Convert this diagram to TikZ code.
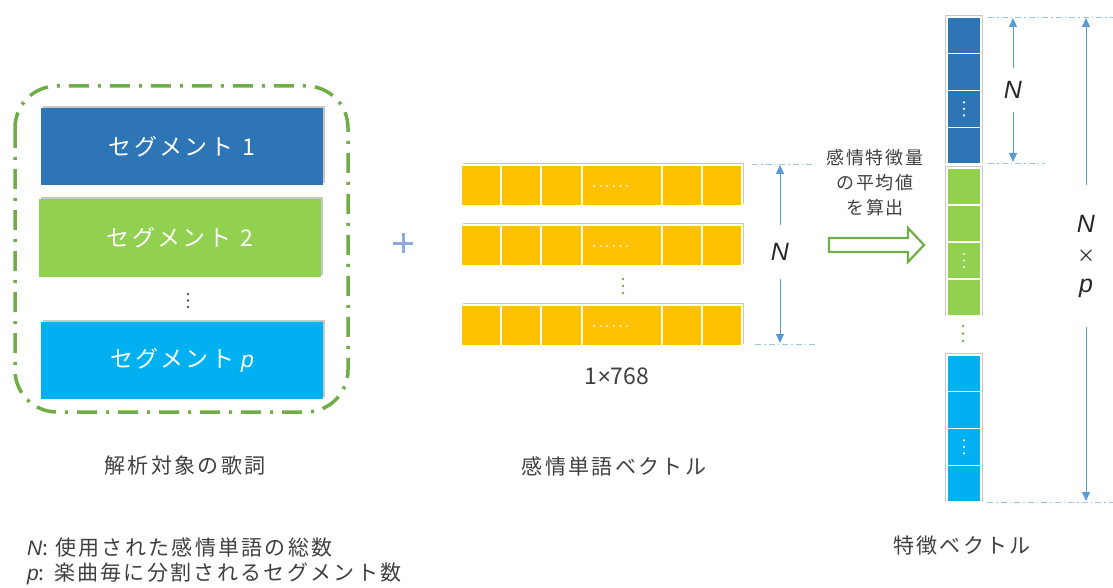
\documentclass[tikz,border=0pt]{standalone}
\usepackage{fontspec}
\setmainfont{Noto Sans CJK JP}
\newfontfamily\latit{Liberation Sans}
\usetikzlibrary{arrows.meta}
\definecolor{segblue}{HTML}{2E75B6}
\definecolor{seggreen}{HTML}{92D050}
\definecolor{segcyan}{HTML}{00B0F0}
\definecolor{vecyellow}{HTML}{FFC000}
\definecolor{grpgreen}{HTML}{70AD47}
\definecolor{dimblue}{HTML}{5B9BD5}
\definecolor{dimlight}{HTML}{9DC3E6}
\definecolor{txtgray}{HTML}{404040}
\definecolor{plusblue}{HTML}{8FAADC}
\definecolor{dotdark}{HTML}{44546A}
\newcommand{\itN}{{\latit\itshape N}}
\newcommand{\itp}{{\latit\itshape p}}
\begin{document}
\begin{tikzpicture}[x=1pt,y=-1pt,
  segbox/.style={minimum width=282pt,minimum height=77pt,inner sep=0pt,text=white,
    font=\fontsize{23}{26}\selectfont\addfontfeature{LetterSpace=10},
    preaction={fill=black,opacity=0.22,transform canvas={xshift=2pt,yshift=2pt}}},
  lbl/.style={text=txtgray,font=\fontsize{21}{25}\selectfont\addfontfeature{LetterSpace=11},inner sep=0pt},
  shadowbox/.style={fill=black,opacity=0.22},
  cellline/.style={draw=white,line width=1.3pt},
  guide/.style={draw=dimlight,line width=0.8pt,dash pattern=on 6pt off 3pt on 1.5pt off 3pt},
  dimarrow/.style={draw=dimblue,line width=0.9pt,-{Triangle[width=8pt,length=9pt]}},
  dimlbl/.style={text=black!85,font=\fontsize{25}{32}\selectfont\latit\itshape,inner sep=0pt},
]
\useasboundingbox (0,0) rectangle (1113,588);

% ---------- left: segments ----------
\draw[grpgreen,line width=3.5pt,rounded corners=42pt,
  dash pattern=on 20pt off 9pt on 3pt off 9pt]
  (15,86) rectangle (348,412);
\node[segbox,fill=segblue] (seg1) at (182,146.5) {セグメント\hspace{0.4em}1};
\node[segbox,fill=seggreen] (seg2) at (180,238) {セグメント\hspace{0.4em}2};
\node[segbox,fill=segcyan] (segp) at (182,360) {セグメント\hspace{0.3em}\itp};
\foreach \yy in {294,300.5,307} \fill[dotdark] (188,\yy) circle (1.3pt);
\node[lbl] (lyrics) at (185,466) {解析対象の歌詞};

% plus
\draw[plusblue,line width=3pt] (393,243) -- (413,243) (403,233) -- (403,253);

% ---------- middle: word vectors ----------
\foreach \ya/\yb in {165/206,225/266,305/346} {
  \fill[shadowbox] (463,\ya-2) rectangle (744,\yb-2);
  \foreach \xa/\xb in {461/501,501/541,541/582,582/662,662/702,702/742}
    \filldraw[fill=vecyellow,cellline] (\xa,\ya) rectangle (\xb,\yb);
  \foreach \k in {0,...,5}
    \fill[white] (594+\k*6.6,{(\ya+\yb)/2+0.5}) circle (1.1pt);
}
\foreach \yy in {279,286,293} \fill[grpgreen] (623,\yy) circle (1.3pt);
\node[text=txtgray,font=\fontsize{23}{26}\selectfont,inner sep=0pt] (dimlabel) at (617,376) {1{\latit ×}768};
\node[lbl] (wordvec) at (614,466) {感情単語ベクトル};

% N dimension (middle)
\coordinate (gt1) at (752,164);
\coordinate (gt2) at (815,164);
\coordinate (gb1) at (755,344);
\coordinate (gb2) at (815,344);
\draw[guide] (gt1) -- (gt2);
\draw[guide] (gb1) -- (gb2);
\node[dimlbl,minimum height=54pt] (nmid) at (780,252) {N};
\coordinate (vt) at (780,165);
\coordinate (vb) at (780,343);
\draw[dimarrow] (nmid) -- (vt);
\draw[dimarrow] (nmid) -- (vb);

% ---------- arrow ----------
\node[text=txtgray,font=\fontsize{18}{25}\selectfont\addfontfeature{LetterSpace=10},align=center,inner sep=0pt] (calc) at (875,183)
  {感情特徴量\\の平均値\\を算出};
\draw[grpgreen,line width=2.2pt,line join=miter]
  (829,238) -- (908,238) -- (908,228) -- (924,245) -- (908,262) -- (908,252) -- (829,252) -- cycle;

% ---------- right: feature vector ----------
\foreach \ya/\yb/\col in {17/164/segblue,168/316/seggreen,355/502/segcyan} {
  \fill[shadowbox] (945,\ya-2) rectangle (983,\yb);
  \pgfmathsetmacro{\h}{(\yb-\ya)/4}
  \foreach \k in {0,1,2,3}
    \filldraw[fill=\col,cellline] (947,{\ya+\k*\h}) rectangle (981,{\ya+(\k+1)*\h});
  \foreach \d in {-6.5,0,6.5}
    \fill[white] (964,{\ya+2.5*\h+\d}) circle (1.2pt);
}
\foreach \yy in {326,333.5,341} \fill[grpgreen] (963,\yy) circle (1.3pt);

\coordinate (rt1) at (988,17);
\coordinate (rt2) at (1113,17);
\coordinate (rm1) at (988,163);
\coordinate (rm2) at (1045,163);
\coordinate (rb1) at (987,502);
\coordinate (rb2) at (1113,502);
\draw[guide] (rt1) -- (rt2);
\draw[guide] (rm1) -- (rm2);
\draw[guide] (rb1) -- (rb2);

\node[dimlbl,minimum height=43pt] (nright) at (1013,90) {N};
\coordinate (it) at (1013,18);
\coordinate (ib) at (1013,162);
\draw[dimarrow] (nright) -- (it);
\draw[dimarrow] (nright) -- (ib);

\node[dimlbl,align=center,minimum height=142pt] (nxp) at (1086,256) {N\\[-2pt]{\normalfont\fontsize{18}{20}\selectfont ×}\\[-2pt]p};
\coordinate (ot) at (1086,18);
\coordinate (ob) at (1086,501);
\draw[dimarrow] (nxp) -- (ot);
\draw[dimarrow] (nxp) -- (ob);

\node[lbl] (featvec) at (962,546) {特徴ベクトル};

% ---------- legend ----------
\node[lbl,anchor=west] (legN) at (27,548) {\itN: 使用された感情単語の総数};
\node[lbl,anchor=west] (legp) at (27,574) {\itp: 楽曲毎に分割されるセグメント数};
\end{tikzpicture}
\end{document}
